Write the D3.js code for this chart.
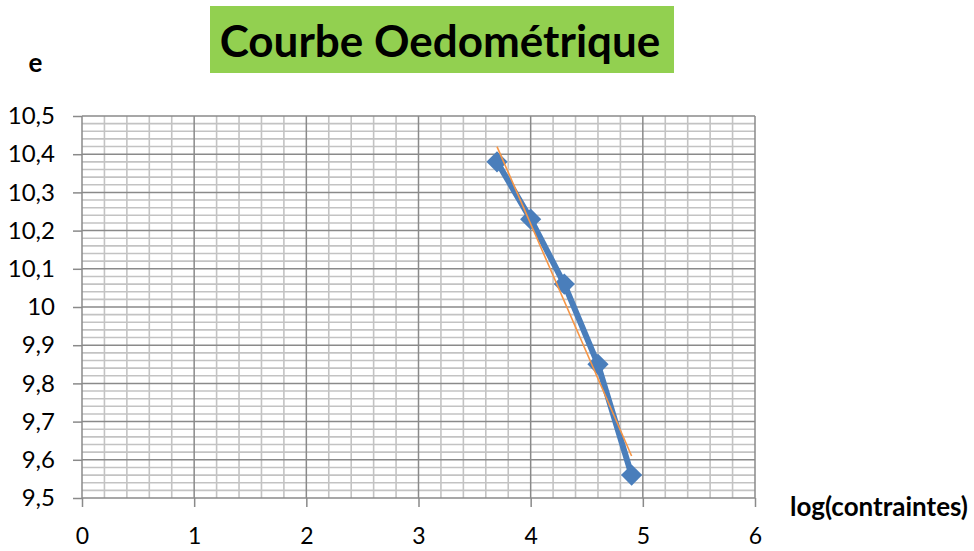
<!DOCTYPE html>
<html><head><meta charset="utf-8">
<script src="https://cdn.jsdelivr.net/npm/d3@7"></script>
<style>body{margin:0;background:#fff}svg{display:block}</style>
</head><body>
<svg id="c" width="974" height="551"></svg>
<script>
const xVals = [3.7, 4.0, 4.3, 4.6, 4.9];
const eVals = [10.38, 10.23, 10.06, 9.85, 9.56];
const trendX = [3.7, 4.9];
const trendY = [10.42, 9.61];
const xTicks = [0, 1, 2, 3, 4, 5, 6];
const yTicks = [9.5, 9.6, 9.7, 9.8, 9.9, 10, 10.1, 10.2, 10.3, 10.4, 10.5];
const title = "Courbe Oedométrique";
const yTitle = "e";
const xTitle = "log(contraintes)";

const svg = d3.select("#c");
const L = 82, R = 755, T = 116, B = 498;
const x = d3.scaleLinear().domain([0, 6]).range([L, R]);
const y = d3.scaleLinear().domain([9.5, 10.5]).range([B, T]);
const font = "Lato, 'Open Sans', sans-serif";

// minor grid
const minorX = d3.range(0, 30).map(i => i * 0.2).filter(v => Math.abs(v - Math.round(v)) > 1e-6);
const minorY = d3.range(0, 50).map(i => 9.5 + i * 0.02).filter(v => Math.abs(v*10 - Math.round(v*10)) > 1e-6);
const g = svg.append("g");
g.selectAll(".mx").data(minorX).join("line")
  .attr("x1", d => x(d)).attr("x2", d => x(d)).attr("y1", T).attr("y2", B)
  .attr("stroke", "#c3c3c3").attr("stroke-width", 1.6);
g.selectAll(".my").data(minorY).join("line")
  .attr("x1", L).attr("x2", R).attr("y1", d => y(d)).attr("y2", d => y(d))
  .attr("stroke", "#c3c3c3").attr("stroke-width", 1.6);
g.selectAll(".Mx").data(xTicks).join("line")
  .attr("x1", d => x(d)).attr("x2", d => x(d)).attr("y1", T).attr("y2", B)
  .attr("stroke", "#8a8a8a").attr("stroke-width", 1.5);
g.selectAll(".My").data(yTicks).join("line")
  .attr("x1", L).attr("x2", R).attr("y1", d => y(d)).attr("y2", d => y(d))
  .attr("stroke", "#8a8a8a").attr("stroke-width", 1.5);

// axes
const xAxis = d3.axisBottom(x).tickValues(xTicks).tickSize(9)
  .tickFormat(d => String(d));
const yAxis = d3.axisLeft(y).tickValues(yTicks).tickSize(9).tickPadding(18)
  .tickFormat(d => String(+d.toFixed(1)).replace(".", ","));
const gx = svg.append("g").attr("transform", `translate(0,${B})`).call(xAxis);
const gy = svg.append("g").attr("transform", `translate(${L},0)`).call(yAxis);
[gx, gy].forEach(a => {
  a.select(".domain").remove();
  a.selectAll(".tick line").attr("stroke", "#8a8a8a").attr("stroke-width", 1.5);
  a.selectAll(".tick text").attr("fill", "#000").attr("font-family", font).attr("font-size", 24);
});
gx.selectAll(".tick text").attr("y", 46).attr("dy", 0).attr("font-size", 23);

// data line
const line = d3.line().x(d => x(d[0])).y(d => y(d[1]));
const pts = xVals.map((v, i) => [v, eVals[i]]);
svg.append("path").datum(pts).attr("d", line).attr("fill", "none")
  .attr("stroke", "#4a7ebb").attr("stroke-width", 6).attr("stroke-linejoin", "round");
svg.selectAll(".pt").data(pts).join("path")
  .attr("transform", d => `translate(${x(d[0])},${y(d[1])}) rotate(45)`)
  .attr("d", "M-7.5,-7.5H7.5V7.5H-7.5Z").attr("fill", "#4a7ebb");
// trendline
svg.append("path").datum(trendX.map((v, i) => [v, trendY[i]])).attr("d", line)
  .attr("fill", "none").attr("stroke", "#f79646").attr("stroke-width", 1.6);

// title
svg.append("rect").attr("x", 210).attr("y", 6).attr("width", 464).attr("height", 67).attr("fill", "#92d050");
svg.append("text").attr("x", 440).attr("y", 57).attr("text-anchor", "middle")
  .attr("font-family", font).attr("font-weight", "bold").attr("font-size", 44).text(title);
svg.append("text").attr("x", 35.5).attr("y", 72).attr("text-anchor", "middle")
  .attr("font-family", font).attr("font-weight", "bold").attr("font-size", 26).text(yTitle);
svg.append("text").attr("x", 879).attr("y", 516).attr("text-anchor", "middle")
  .attr("font-family", font).attr("font-weight", "bold").attr("font-size", 26).text(xTitle);
</script>
</body></html>
